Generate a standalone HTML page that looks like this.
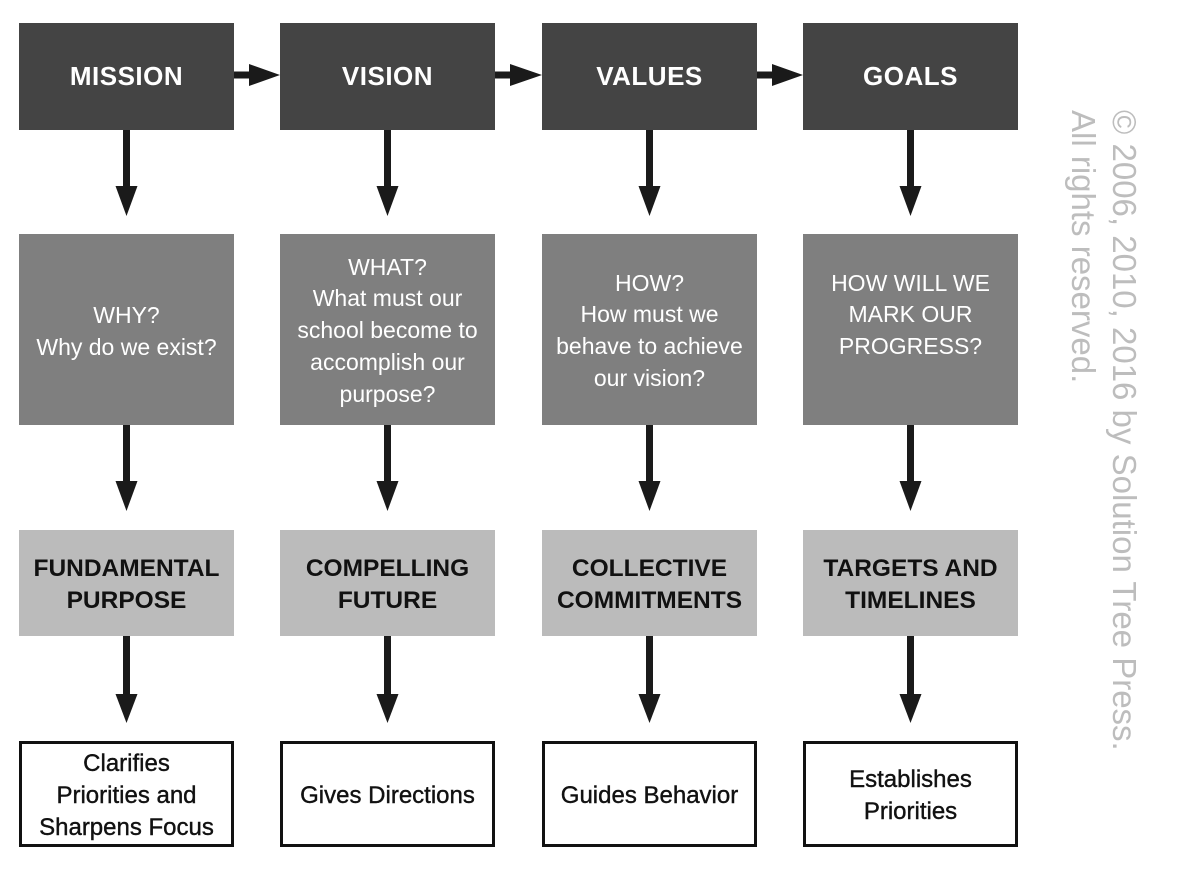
<!DOCTYPE html>
<html><head><meta charset="utf-8"><style>
html,body{margin:0;padding:0;background:#fff;}
svg{display:block;}
.t1{font-family:"Liberation Sans",sans-serif;font-weight:bold;font-size:26px;fill:#fff;letter-spacing:0.5px;}
.t2{font-family:"Liberation Sans",sans-serif;font-size:23px;fill:#fff;}
.t3{font-family:"Liberation Sans",sans-serif;font-weight:bold;font-size:24.5px;fill:#111;}
.t4{font-family:"Liberation Sans",sans-serif;font-size:24px;fill:#111;stroke:#111;stroke-width:0.4px;}
.c{font-family:"Liberation Sans",sans-serif;font-size:33px;fill:#bdbdbd;}
</style></head><body>
<svg width="1196" height="872" viewBox="0 0 1196 872" xmlns="http://www.w3.org/2000/svg">
<defs>
<g id="va"><rect x="-3.5" y="0" width="7" height="60"/><polygon points="-11,56 11,56 0,86"/></g>
<g id="va2"><rect x="-3.5" y="0" width="7" height="62"/><polygon points="-11,58 11,58 0,87"/></g>
</defs>
<g fill="#444">
<rect x="19" y="23" width="215" height="107"/><rect x="280" y="23" width="215" height="107"/>
<rect x="542" y="23" width="215" height="107"/><rect x="803" y="23" width="215" height="107"/>
</g>
<g fill="#7f7f7f">
<rect x="19" y="234" width="215" height="191"/><rect x="280" y="234" width="215" height="191"/>
<rect x="542" y="234" width="215" height="191"/><rect x="803" y="234" width="215" height="191"/>
</g>
<g fill="#bbbbbb">
<rect x="19" y="530" width="215" height="106"/><rect x="280" y="530" width="215" height="106"/>
<rect x="542" y="530" width="215" height="106"/><rect x="803" y="530" width="215" height="106"/>
</g>
<g fill="#fff" stroke="#111" stroke-width="3">
<rect x="20.5" y="742.5" width="212" height="103"/><rect x="281.5" y="742.5" width="212" height="103"/>
<rect x="543.5" y="742.5" width="212" height="103"/><rect x="804.5" y="742.5" width="212" height="103"/>
</g>
<g fill="#1a1a1a">
<rect x="234" y="71.5" width="20" height="7"/><polygon points="249,64 280,75 249,86"/>
<rect x="495" y="71.5" width="20" height="7"/><polygon points="510,64 542,75 510,86"/>
<rect x="757" y="71.5" width="20" height="7"/><polygon points="772,64 803,75 772,86"/>
<use href="#va" x="126.5" y="130"/><use href="#va" x="387.5" y="130"/><use href="#va" x="649.5" y="130"/><use href="#va" x="910.5" y="130"/>
<use href="#va" x="126.5" y="425"/><use href="#va" x="387.5" y="425"/><use href="#va" x="649.5" y="425"/><use href="#va" x="910.5" y="425"/>
<use href="#va2" x="126.5" y="636"/><use href="#va2" x="387.5" y="636"/><use href="#va2" x="649.5" y="636"/><use href="#va2" x="910.5" y="636"/>
</g>
<g text-anchor="middle">
<text class="t1" x="126.5" y="85">MISSION</text>
<text class="t1" x="387.5" y="85">VISION</text>
<text class="t1" x="649.5" y="85">VALUES</text>
<text class="t1" x="910.5" y="85">GOALS</text>

<text class="t2" x="126.5" y="323">WHY?</text>
<text class="t2" x="126.5" y="355">Why do we exist?</text>
<text class="t2" x="387.5" y="275">WHAT?</text>
<text class="t2" x="387.5" y="306">What must our</text>
<text class="t2" x="387.5" y="338">school become to</text>
<text class="t2" x="387.5" y="370">accomplish our</text>
<text class="t2" x="387.5" y="402">purpose?</text>
<text class="t2" x="649.5" y="291">HOW?</text>
<text class="t2" x="649.5" y="322">How must we</text>
<text class="t2" x="649.5" y="354">behave to achieve</text>
<text class="t2" x="649.5" y="386">our vision?</text>
<text class="t2" x="910.5" y="291">HOW WILL WE</text>
<text class="t2" x="910.5" y="322">MARK OUR</text>
<text class="t2" x="910.5" y="354">PROGRESS?</text>

<text class="t3" x="126.5" y="576">FUNDAMENTAL</text>
<text class="t3" x="126.5" y="608">PURPOSE</text>
<text class="t3" x="387.5" y="576">COMPELLING</text>
<text class="t3" x="387.5" y="608">FUTURE</text>
<text class="t3" x="649.5" y="576">COLLECTIVE</text>
<text class="t3" x="649.5" y="608">COMMITMENTS</text>
<text class="t3" x="910.5" y="576">TARGETS AND</text>
<text class="t3" x="910.5" y="608">TIMELINES</text>

<text class="t4" x="126.5" y="771">Clarifies</text>
<text class="t4" x="126.5" y="803">Priorities and</text>
<text class="t4" x="126.5" y="835">Sharpens Focus</text>
<text class="t4" x="387.5" y="803">Gives Directions</text>
<text class="t4" x="649.5" y="803">Guides Behavior</text>
<text class="t4" x="910.5" y="787">Establishes</text>
<text class="t4" x="910.5" y="819">Priorities</text>
</g>
<g transform="translate(1113,110) rotate(90)">
<text class="c" x="0" y="0">© 2006, 2010, 2016 by Solution Tree Press.</text>
<text class="c" x="0" y="41">All rights reserved.</text>
</g>
</svg>
</body></html>
